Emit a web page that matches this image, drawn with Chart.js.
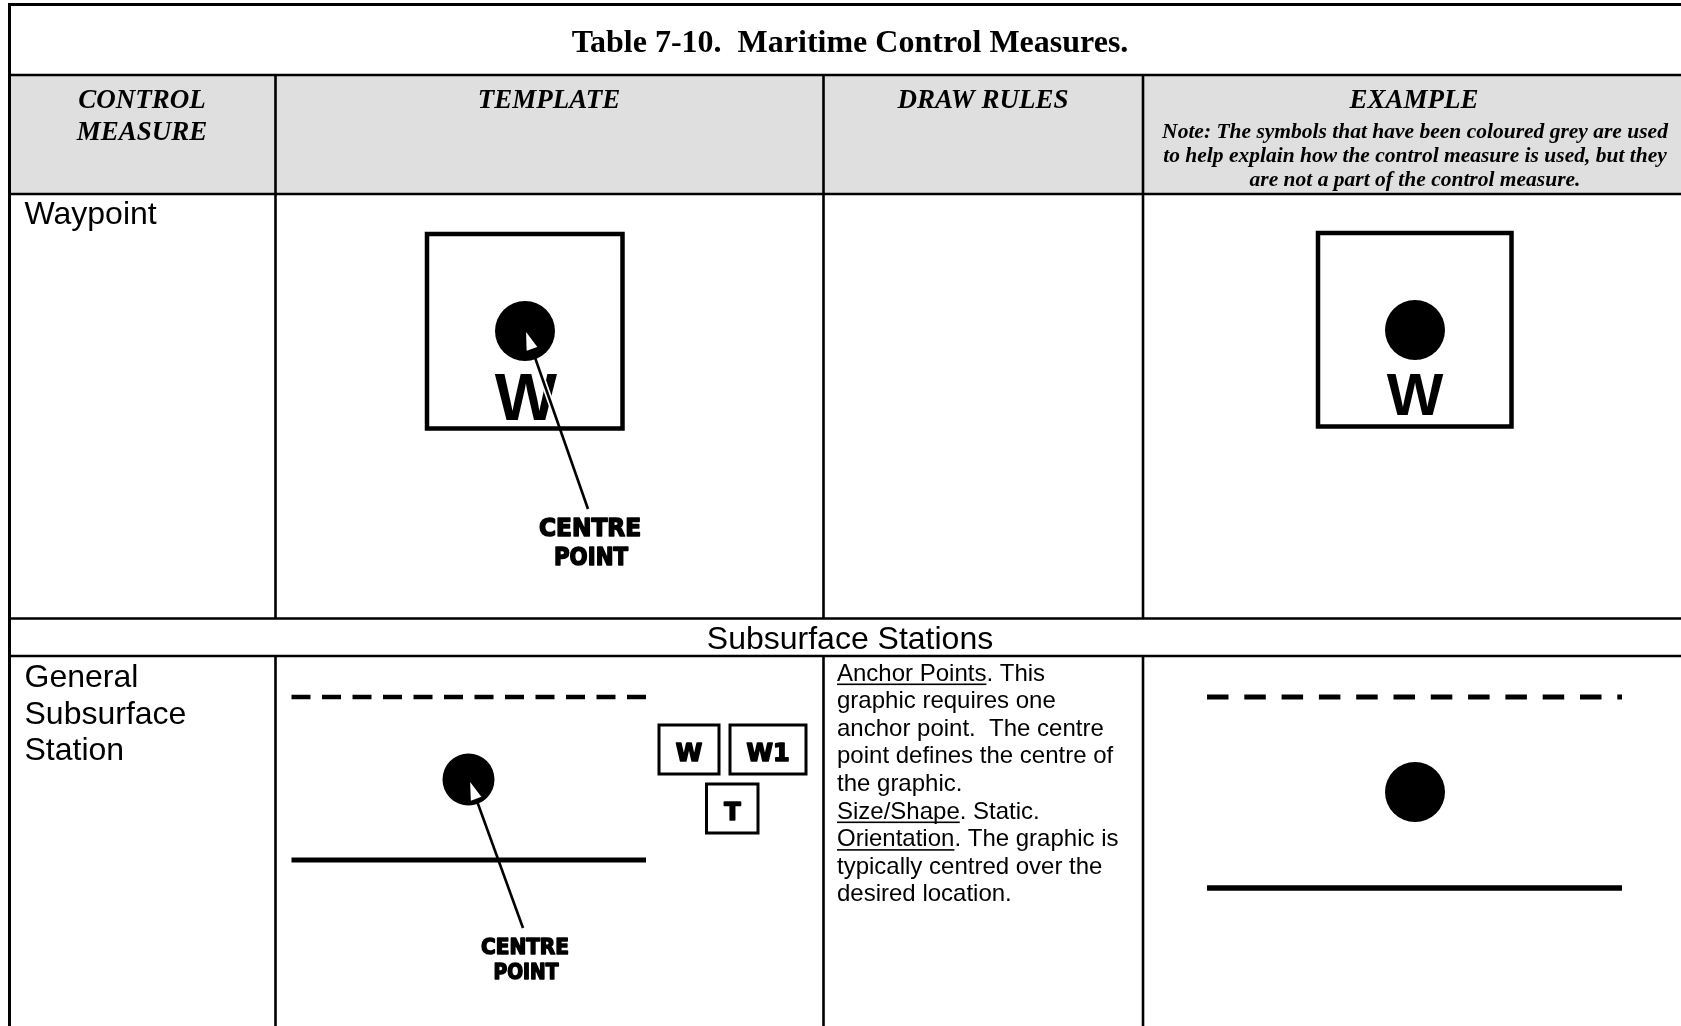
<!DOCTYPE html>
<html><head><meta charset="utf-8">
<script src="https://cdn.jsdelivr.net/npm/chart.js@4.4.1/dist/chart.umd.min.js"></script>
<style>html,body{margin:0;padding:0;background:#fff;overflow:hidden}#wrap{width:1681px;height:1026px}canvas{display:block}</style>
</head><body><div id="wrap"><canvas id="c" width="1681" height="1026"></canvas></div>
<script>
// ---- text content ----
const title = "Table 7-10.  Maritime Control Measures.";
const headers = [["CONTROL", "MEASURE"], ["TEMPLATE"], ["DRAW RULES"], ["EXAMPLE"]];
const noteLines = [
  "Note: The symbols that have been coloured grey are used",
  "to help explain how the control measure is used, but they",
  "are not a part of the control measure."
];
const rowLabels = [["Waypoint"], ["General", "Subsurface", "Station"]];
const sectionLabel = "Subsurface Stations";
const drawRules = [
  "_Anchor Points_. This",
  "graphic requires one",
  "anchor point.  The centre",
  "point defines the centre of",
  "the graphic.",
  "_Size/Shape_. Static.",
  "_Orientation_. The graphic is",
  "typically centred over the",
  "desired location."
];
const waypointLetter = "W";
const amplifierLabels = ["W", "W1", "T"];
const pointerLabel = ["CENTRE", "POINT"];

// ---- layout (page units = pixels of the 1681x1026 page) ----
const PAGE = {w: 1681, h: 1026};
const T = {left: 9.5, top: 4.5, right: 1681, bottom: 1026,
  cols: [275.5, 823.5, 1143], rows: [75, 194, 618.5, 656], lw: 2.6};
const colCenters = [142, 549, 983, 1414];

const seg = (pts, w, extra) => Object.assign({
  data: pts.map(p => ({x: p[0], y: p[1]})), showLine: true, borderColor: '#000',
  borderWidth: w, borderCapStyle: 'butt', borderJoinStyle: 'miter', pointRadius: 0,
  pointHoverRadius: 0, fill: false, tension: 0, clip: false, order: 1
}, extra || {});
const dot = (x, y, r) => ({data: [{x, y}], showLine: false, pointRadius: r, pointHoverRadius: r,
  pointBackgroundColor: '#000', pointBorderColor: '#000', pointBorderWidth: 0, clip: false, order: 1});
const box = (x0, y0, x1, y1, w) => seg([[x0, y0], [x1, y0], [x1, y1], [x0, y1], [x0, y0], [x1, y0]], w);

// symbol geometry
const WP_T = {sq: [427, 234, 622.5, 428.5], dot: [525, 331, 30], tip: [525, 329], tail: [588, 509]};
const WP_E = {sq: [1318, 233, 1511.5, 426.5], dot: [1415, 330, 30]};
const SS_T = {x0: 291.5, x1: 646, dashY: 697, solidY: 860, dot: [468.5, 779.5, 26], tip: [469, 779], tail: [523, 928],
  boxes: [[659, 725, 719, 774], [730, 725, 806, 774], [706.5, 784, 758, 833]]};
const SS_E = {x0: 1207, x1: 1622, dashY: 697, solidY: 888, dot: [1415, 792, 30]};
const ARROWS = [WP_T, SS_T];

function arrowBase(a) {
  const dx = a.tail[0] - a.tip[0], dy = a.tail[1] - a.tip[1];
  const L = Math.hypot(dx, dy);
  return [a.tip[0] + dx / L * 22, a.tip[1] + dy / L * 22];
}

const datasets = [];
// table rules
const g = T.lw;
datasets.push(seg([[T.left, T.top], [T.right, T.top]], 3));
datasets.push(seg([[T.left, T.top - 1.5], [T.left, T.bottom]], 3));
datasets.push(seg([[T.left, T.rows[0]], [T.right, T.rows[0]]], g));
datasets.push(seg([[T.left, T.rows[1]], [T.right, T.rows[1]]], g));
datasets.push(seg([[T.left, T.rows[2]], [T.right, T.rows[2]]], g));
datasets.push(seg([[T.left, T.rows[3]], [T.right, T.rows[3]]], g));
T.cols.forEach(x => {
  datasets.push(seg([[x, T.rows[0]], [x, T.rows[2]]], g));
  datasets.push(seg([[x, T.rows[3]], [x, T.bottom]], g));
});
// waypoint symbols
datasets.push(box(...WP_T.sq, 4.5));
datasets.push(dot(...WP_T.dot));
datasets.push(box(...WP_E.sq, 4.5));
datasets.push(dot(...WP_E.dot));
// subsurface symbols
datasets.push(seg([[SS_T.x0, SS_T.dashY], [SS_T.x1, SS_T.dashY]], 4.5, {borderDash: [19, 11.5]}));
datasets.push(seg([[SS_T.x0, SS_T.solidY], [SS_T.x1, SS_T.solidY]], 5));
datasets.push(dot(...SS_T.dot));
SS_T.boxes.forEach(b => datasets.push(box(...b, 3)));
datasets.push(seg([[SS_E.x0, SS_E.dashY], [SS_E.x1, SS_E.dashY]], 5, {borderDash: [21.5, 15.8]}));
datasets.push(seg([[SS_E.x0, SS_E.solidY], [SS_E.x1, SS_E.solidY]], 5.5));
datasets.push(dot(...SS_E.dot));
// arrow shafts (halo drawn underneath: higher order = lower layer)
datasets.push(seg([WP_T.tail, arrowBase(WP_T)], 6, {borderColor: '#fff', order: 5}));
ARROWS.forEach(a => datasets.push(seg([a.tail, arrowBase(a)], 2.6, {order: 0})));

function richLine(ctx, str, x, y) {
  const parts = str.split('_');
  let cx = x;
  parts.forEach((p, i) => {
    if (!p) return;
    ctx.fillText(p, cx, y);
    const w = ctx.measureText(p).width;
    if (i % 2 === 1) ctx.fillRect(cx, y + 3, w, 1.6);
    cx += w;
  });
}

const tablePlugin = {
  id: 'tableText',
  beforeDatasetsDraw(chart) {
    const {ctx, scales: {x, y}} = chart;
    const X = v => x.getPixelForValue(v), Y = v => y.getPixelForValue(v);
    ctx.save();
    // header background
    ctx.fillStyle = '#dfdfdf';
    ctx.fillRect(X(T.left), Y(T.rows[0]), X(T.right) - X(T.left), Y(T.rows[1]) - Y(T.rows[0]));
    ctx.fillStyle = '#000';
    ctx.textAlign = 'center';
    ctx.textBaseline = 'alphabetic';
    ctx.font = 'bold 32px "Liberation Serif", serif';
    ctx.fillText(title, X(850), Y(52));
    ctx.font = 'italic bold 27px "Liberation Serif", serif';
    headers.forEach((h, i) => h.forEach((s, j) => ctx.fillText(s, X(colCenters[i]), Y(108 + j * 31.5))));
    ctx.font = 'italic bold 21.5px "Liberation Serif", serif';
    noteLines.forEach((s, j) => ctx.fillText(s, X(1415), Y(137.5 + j * 24)));
    // body text
    ctx.font = '32px "Liberation Sans", Arial, sans-serif';
    ctx.fillText(sectionLabel, X(850), Y(649));
    ctx.textAlign = 'left';
    rowLabels[0].forEach((s, j) => ctx.fillText(s, X(24.5), Y(224 + j * 36.5)));
    rowLabels[1].forEach((s, j) => ctx.fillText(s, X(24.5), Y(687 + j * 36.5)));
    ctx.font = '24px "Liberation Sans", Arial, sans-serif';
    drawRules.forEach((s, j) => richLine(ctx, s, X(837), Y(680.5 + j * 27.6)));
    // symbol letters
    ctx.textAlign = 'center';
    ctx.font = 'bold 66px "Liberation Sans", Arial, sans-serif';
    ctx.fillText(waypointLetter, X(526), Y(420));
    ctx.font = 'bold 60px "Liberation Sans", Arial, sans-serif';
    ctx.fillText(waypointLetter, X(1415), Y(415));
    ctx.lineJoin = 'round';
    ctx.strokeStyle = '#000';
    ctx.lineWidth = 1.6;
    const heavy = (s, cx, by, size, maxW) => {
      ctx.font = '900 ' + size + 'px "DejaVu Sans", "Liberation Sans", sans-serif';
      ctx.fillText(s, X(cx), Y(by), maxW);
      ctx.strokeText(s, X(cx), Y(by), maxW);
    };
    heavy(amplifierLabels[0], 689, 761, 24, 30);
    heavy(amplifierLabels[1], 768, 761, 24, 44);
    heavy(amplifierLabels[2], 732.5, 820, 24, 22);
    heavy(pointerLabel[0], 590, 536, 25, 102);
    heavy(pointerLabel[1], 591, 565, 25, 74);
    heavy(pointerLabel[0], 525, 954, 22, 88);
    heavy(pointerLabel[1], 526, 979, 22, 65);
    ctx.restore();
  },
  afterDatasetsDraw(chart) {
    const {ctx, scales: {x, y}} = chart;
    ctx.save();
    ARROWS.forEach(a => {
      const dx = a.tail[0] - a.tip[0], dy = a.tail[1] - a.tip[1];
      const L = Math.hypot(dx, dy), ux = dx / L, uy = dy / L;
      const bx = a.tip[0] + ux * 22, by = a.tip[1] + uy * 22;
      const px = -uy * 7, py = ux * 7;
      ctx.beginPath();
      ctx.moveTo(x.getPixelForValue(a.tip[0]), y.getPixelForValue(a.tip[1]));
      ctx.lineTo(x.getPixelForValue(bx + px), y.getPixelForValue(by + py));
      ctx.lineTo(x.getPixelForValue(bx - px), y.getPixelForValue(by - py));
      ctx.closePath();
      ctx.fillStyle = '#fff';
      ctx.fill();
      ctx.lineWidth = 2;
      ctx.strokeStyle = '#000';
      ctx.lineJoin = 'miter';
      ctx.stroke();
    });
    ctx.restore();
  }
};

new Chart(document.getElementById('c'), {
  type: 'scatter',
  data: {datasets},
  options: {
    responsive: false, animation: false, devicePixelRatio: 1,
    layout: {padding: 0, autoPadding: false},
    events: [],
    scales: {
      x: {type: 'linear', min: 0, max: PAGE.w, display: false},
      y: {type: 'linear', min: 0, max: PAGE.h, reverse: true, display: false}
    },
    plugins: {legend: {display: false}, tooltip: {enabled: false}, title: {display: false}}
  },
  plugins: [tablePlugin]
});
</script></body></html>
